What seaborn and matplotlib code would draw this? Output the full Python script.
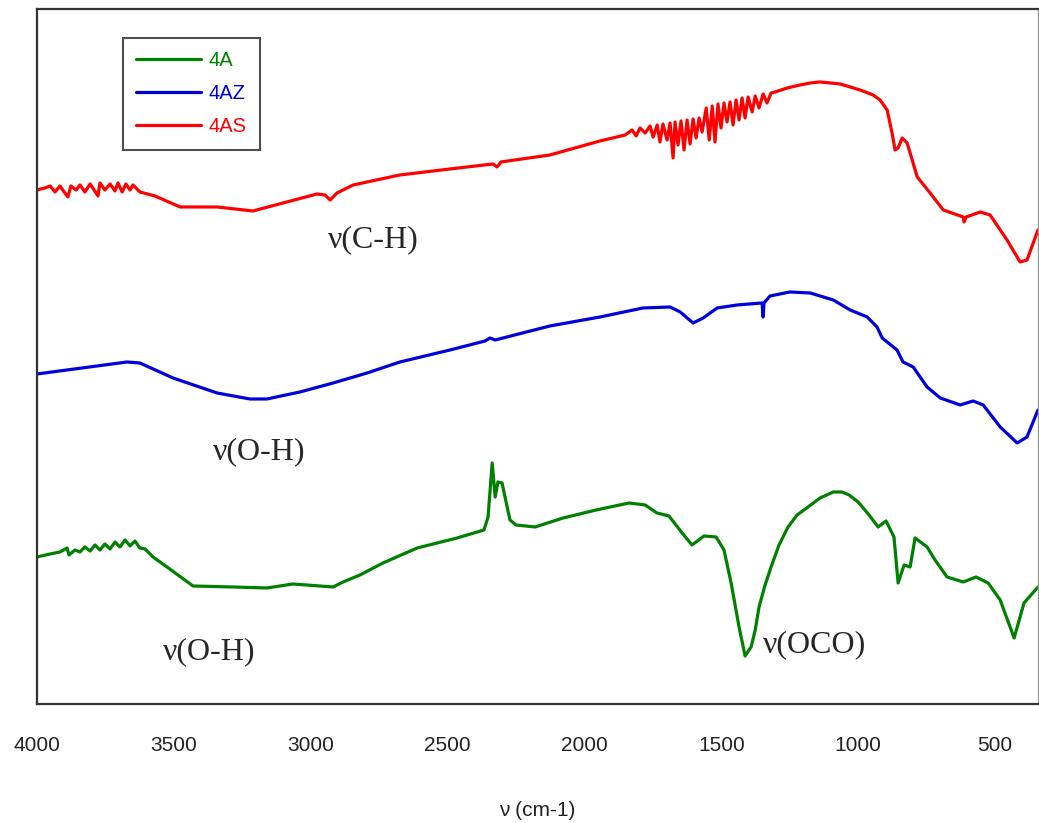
import matplotlib
matplotlib.use("Agg")
import matplotlib.pyplot as plt
import seaborn as sns
import pandas as pd

# FTIR spectra (wavenumber in cm-1, transmittance in arbitrary offset units)
wn_4A = [4000, 3952, 3916, 3890, 3883, 3861, 3843, 3825, 3806, 3788, 3770, 3752,
         3733, 3715, 3697, 3678, 3660, 3642, 3624, 3605, 3576, 3525, 3430, 3284,
         3160, 3065, 2918, 2882, 2820, 2736, 2611, 2465, 2367, 2352, 2337, 2326,
         2316, 2301, 2272, 2250, 2180, 2078, 1957, 1837, 1778, 1735, 1691, 1643,
         1607, 1563, 1519, 1490, 1464, 1435, 1413, 1391, 1376, 1362, 1340, 1318,
         1289, 1256, 1223, 1183, 1139, 1091, 1059, 1033, 1000, 960, 927, 898, 869,
         854, 832, 810, 792, 748, 719, 675, 616, 569, 525, 481, 430, 394, 343]
t_4A = [147, 150, 152, 156, 149, 154, 152, 157, 153, 159, 154, 160,
        155, 162, 157, 164, 158, 163, 156, 155, 147, 137, 118, 117,
        116, 120, 117, 122, 129, 141, 156, 166, 174, 187, 241, 207,
        222, 221, 184, 179, 177, 186, 194, 201, 199, 191, 188, 171,
        159, 168, 167, 154, 121, 77, 48, 57, 74, 97, 119, 137,
        159, 177, 189, 197, 206, 212, 212, 209, 202, 189, 177, 183, 167,
        121, 139, 137, 166, 157, 144, 127, 122, 127, 121, 104, 66, 101, 117]

wn_4AZ = [4000, 3671, 3624, 3503, 3342, 3222, 3160, 3039, 2918, 2794, 2674, 2491,
          2363, 2345, 2326, 2126, 1943, 1786, 1687, 1650, 1603, 1566, 1515, 1442,
          1351, 1347, 1344, 1322, 1249, 1175, 1091, 1029, 967, 931, 912, 858, 836,
          799, 748, 700, 627, 580, 543, 481, 419, 383, 343]
t_4AZ = [330, 342, 341, 326, 311, 305, 305, 312, 321, 331, 342, 354,
         363, 366, 364, 378, 387, 396, 397, 392, 381, 386, 396, 399,
         401, 387, 401, 408, 412, 411, 404, 394, 387, 377, 366, 354, 342,
         337, 317, 306, 299, 303, 299, 277, 261, 267, 294]

wn_4AS = [4000, 3971, 3952, 3934, 3916, 3898, 3887, 3876, 3857, 3843, 3825, 3806,
          3777, 3770, 3752, 3733, 3715, 3704, 3689, 3675, 3660, 3649, 3624, 3569,
          3477, 3342, 3211, 3101, 2977, 2948, 2929, 2904, 2845, 2794, 2674, 2491,
          2334, 2319, 2305, 2126, 1943,
          1851, 1826, 1811, 1797, 1778, 1760, 1749, 1734, 1724, 1713, 1698, 1687,
          1676, 1669, 1658, 1647, 1636, 1625, 1614, 1603, 1592, 1581, 1570, 1555,
          1544, 1533, 1523, 1512, 1501, 1490, 1479, 1468, 1457, 1446, 1435, 1424,
          1413, 1402, 1387, 1376, 1362, 1347, 1333, 1318, 1303,
          1259, 1212, 1175, 1139, 1102, 1066, 1029, 993, 945, 920, 894, 876, 865,
          854, 839, 821, 784, 737, 689, 616, 613, 605, 554, 518, 456, 430, 408,
          383, 343]
t_4AS = [514, 516, 518, 512, 518, 511, 507, 518, 514, 519, 512, 520,
         508, 521, 514, 520, 513, 521, 512, 520, 514, 519, 512, 508,
         497, 497, 493, 501, 510, 509, 504, 511, 519, 522, 529, 535,
         540, 537, 542, 549, 563,
         569, 574, 568, 576, 571, 578, 567, 579, 562, 580, 564, 581,
         546, 582, 559, 583, 554, 584, 560, 585, 566, 586, 572, 596,
         564, 598, 562, 600, 576, 601, 582, 602, 579, 604, 584, 606,
         586, 607, 592, 608, 596, 610, 601, 611, 612,
         616, 619, 621, 622, 621, 620, 617, 614, 609, 604, 594, 571, 554,
         556, 566, 561, 527, 511, 494, 487, 482, 487, 492, 489, 464, 452, 442,
         444, 474]

series_names = ["4A", "4AZ", "4AS"]
series_colors = ["#008000", "#0000DC", "#FF0000"]

sns.set_style("white")
plt.rcParams["font.family"] = ["Liberation Sans", "DejaVu Sans"]

fig = plt.figure(figsize=(10.39, 8.23), dpi=100)
ax = fig.add_axes([0.0356, 0.1446, 0.9634, 0.8445])

frames = [
    pd.DataFrame({"wn": wn_4A, "T": t_4A}),
    pd.DataFrame({"wn": wn_4AZ, "T": t_4AZ}),
    pd.DataFrame({"wn": wn_4AS, "T": t_4AS}),
]
for df, name, col in zip(frames, series_names, series_colors):
    sns.lineplot(data=df, x="wn", y="T", ax=ax, color=col, lw=2.3,
                 label=name, estimator=None, sort=False)

ax.set_xlim(4000, 343)
ax.set_ylim(0, 695)
ax.set_xticks([4000, 3500, 3000, 2500, 2000, 1500, 1000, 500])
ax.set_xticklabels(["4000", "3500", "3000", "2500", "2000", "1500", "1000", "500"])
ax.set_yticks([])
ax.tick_params(axis="x", length=0, pad=23, labelsize=15, labelcolor="#222222")
ax.set_xlabel("\u03bd (cm-1)", fontsize=15, labelpad=33, color="#222222")
ax.set_ylabel("")

for side in ["left", "top", "bottom"]:
    ax.spines[side].set_color("#333333")
    ax.spines[side].set_linewidth(1.6)
ax.spines["right"].set_color("#999999")
ax.spines["right"].set_linewidth(1.0)

# band assignments
serif = ["Liberation Serif", "DejaVu Serif"]
ax.text(2937, 464, "\u03bd(C-H)", family=serif, fontsize=23, ha="left", va="center")
ax.text(3357, 252, "\u03bd(O-H)", family=serif, fontsize=23, ha="left", va="center")
ax.text(3540, 52, "\u03bd(O-H)", family=serif, fontsize=23, ha="left", va="center")
ax.text(1347, 59, "\u03bd(OCO)", family=serif, fontsize=23, ha="left", va="center")

leg = ax.legend(loc="upper left", bbox_to_anchor=(0.086, 0.958), borderaxespad=0,
                fontsize=14.5, handlelength=3.2, handletextpad=0.4,
                labelspacing=0.7, borderpad=0.65, fancybox=False, frameon=True)
leg.get_frame().set_edgecolor("#222222")
leg.get_frame().set_linewidth(1.5)
for txt, col in zip(leg.get_texts(), series_colors):
    txt.set_color(col)
for h in leg.get_lines():
    h.set_linewidth(2.3)

fig.savefig("out.png", dpi=100)
